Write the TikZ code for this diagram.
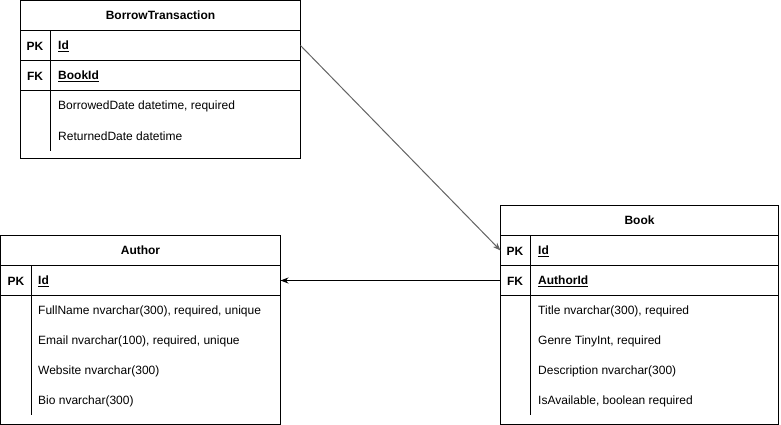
\documentclass[tikz,border=0pt]{standalone}
\usepackage{fontspec}
\setmainfont{Liberation Sans}
\usetikzlibrary{arrows.meta}
\definecolor{linkgray}{RGB}{100,100,100}
\tikzset{
  tbl/.style={draw, line width=1pt, inner sep=0pt, outer sep=0pt, anchor=north west},
  hdr/.style={draw, line width=1pt, inner sep=0pt, outer sep=0pt, anchor=north west, minimum height=30pt,
    font=\fontsize{12}{14}\selectfont\bfseries},
  keyrow/.style={draw, line width=1pt, inner sep=0pt, outer sep=0pt, anchor=north west, minimum height=30pt},
  keytxt/.style={inner sep=0pt, font=\fontsize{12}{14}\selectfont\bfseries},
  fieldtxt/.style={inner sep=0pt, anchor=west, font=\fontsize{12}{14}\selectfont},
  keyname/.style={inner sep=0pt, anchor=west, font=\fontsize{12}{14}\selectfont\bfseries},
  divider/.style={line width=1pt},
  link/.style={line width=1pt, -{Stealth[length=8pt,width=6pt]}},
}
\begin{document}
\begin{tikzpicture}[x=1pt,y=-1pt]
\useasboundingbox (0,0) rectangle (781,425);

% BorrowTransaction table
\node[tbl, minimum width=280pt, minimum height=158pt] (bt) at (20.5,0.5) {};
\node[hdr, minimum width=280pt] (bt-h) at (bt.north west) {BorrowTransaction};
\node[keyrow, minimum width=280pt] (bt-pk) at (bt-h.south west) {};
\node[keyrow, minimum width=280pt] (bt-fk) at (bt-pk.south west) {};
\draw[divider] (50.5,30.5) -- (50.5,151);
\node[keytxt] (bt-pkl) at (35,46) {PK};
\node[keyname] (bt-pkn) at (58,46.5) {\underline{Id}};
\node[keytxt] (bt-fkl) at (35,76) {FK};
\node[keyname] (bt-fkn) at (58,76.5) {\underline{BookId}};
\node[fieldtxt] (bt-f1) at (58,106) {BorrowedDate datetime, required};
\node[fieldtxt] (bt-f2) at (58,136) {ReturnedDate datetime};

% Author table
\node[tbl, minimum width=280pt, minimum height=189pt] (au) at (0.5,235.5) {};
\node[hdr, minimum width=280pt] (au-h) at (au.north west) {Author};
\node[keyrow, minimum width=280pt] (au-pk) at (au-h.south west) {};
\draw[divider] (31.5,265.5) -- (31.5,415);
\node[keytxt] (au-pkl) at (16,281) {PK};
\node[keyname] (au-pkn) at (38,281.5) {\underline{Id}};
\node[fieldtxt] (au-f1) at (38,311) {FullName nvarchar(300), required, unique};
\node[fieldtxt] (au-f2) at (38,341) {Email nvarchar(100), required, unique};
\node[fieldtxt] (au-f3) at (38,371) {Website nvarchar(300)};
\node[fieldtxt] (au-f4) at (38,401) {Bio nvarchar(300)};

% Book table
\node[tbl, minimum width=278pt, minimum height=219pt] (bk) at (500.5,205.5) {};
\node[hdr, minimum width=278pt] (bk-h) at (bk.north west) {Book};
\node[keyrow, minimum width=278pt] (bk-pk) at (bk-h.south west) {};
\node[keyrow, minimum width=278pt] (bk-fk) at (bk-pk.south west) {};
\draw[divider] (530.5,235.5) -- (530.5,415);
\node[keytxt] (bk-pkl) at (515,251) {PK};
\node[keyname] (bk-pkn) at (538,251.5) {\underline{Id}};
\node[keytxt] (bk-fkl) at (515,281) {FK};
\node[keyname] (bk-fkn) at (538,281.5) {\underline{AuthorId}};
\node[fieldtxt] (bk-f1) at (538,311) {Title nvarchar(300), required};
\node[fieldtxt] (bk-f2) at (538,341) {Genre TinyInt, required};
\node[fieldtxt] (bk-f3) at (538,371) {Description nvarchar(300)};
\node[fieldtxt] (bk-f4) at (538,401) {IsAvailable, boolean required};

% Relations
\draw[link, linkgray] (bt-pk.east) -- (bk-pk.west);
\draw[link] (bk-fk.west) -- (au-pk.east);
\end{tikzpicture}
\end{document}
